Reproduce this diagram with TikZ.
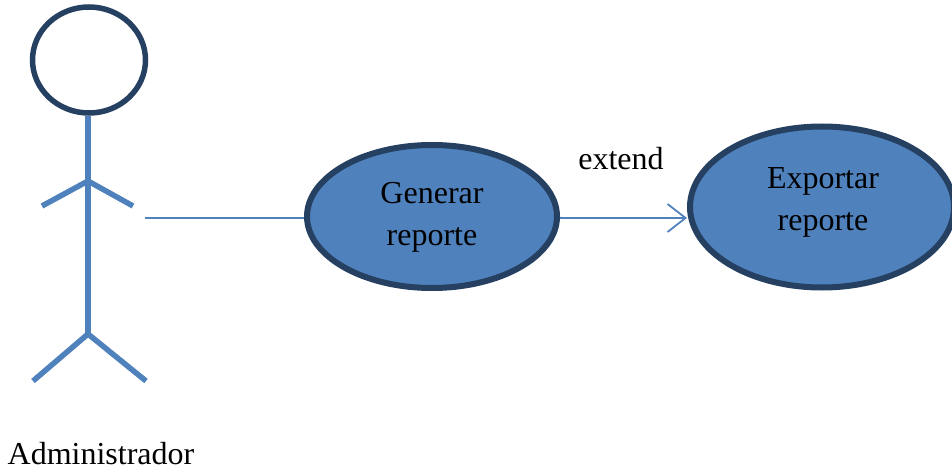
\documentclass[tikz,border=0pt]{standalone}
\usepackage{fontspec}
\setmainfont{Liberation Serif}
\usetikzlibrary{shapes.geometric,arrows.meta}
\definecolor{bl}{HTML}{4F81BD}
\definecolor{dk}{HTML}{254061}
\tikzset{
 uc/.style={ellipse,draw=dk,fill=bl,line width=6pt,inner sep=0pt,align=center},
 limb/.style={draw=bl,line width=5.5pt},
 conn/.style={draw=bl,line width=1.8pt},
 lbl/.style={inner sep=0pt,anchor=base,font=\fontsize{32pt}{38pt}\selectfont}
}
\begin{document}
\begin{tikzpicture}[x=1pt,y=-1pt]
\useasboundingbox (0,0) rectangle (952,473);
\node[ellipse,draw=dk,fill=white,line width=5.5pt,minimum width=113pt,minimum height=106pt,inner sep=0pt] (head) at (89,60) {};
\coordinate (hip) at (88,334);
\coordinate (sh) at (88,181);
\draw[limb] (head.south) ++(-1,0) -- (hip);
\coordinate (la) at (42,206);
\coordinate (ra) at (133,206);
\coordinate (ll) at (33,381);
\coordinate (rl) at (146,381);
\draw[limb] (la) -- (sh) -- (ra);
\draw[limb] (ll) -- (hip) -- (rl);
\node[uc,minimum width=250pt,minimum height=143pt] (g) at (432,216.5) {};
\node[uc,minimum width=264pt,minimum height=161pt] (e) at (822,207) {};
\node[lbl] (gt1) at (432,204) {Generar};
\node[lbl] (gt2) at (432,245) {reporte};
\node[lbl] (et1) at (823,188) {Exportar};
\node[lbl] (et2) at (823,230) {reporte};
\coordinate (c) at (145,218);
\draw[conn] (c) -- (g.west |- c);
\draw[conn,-{Straight Barb[length=18pt,width=28pt]}] (g.east |- c) -- (e.west |- c);
\node[lbl] (x) at (621,170) {extend};
\node[lbl] (a) at (101,464) {Administrador};
\end{tikzpicture}
\end{document}
